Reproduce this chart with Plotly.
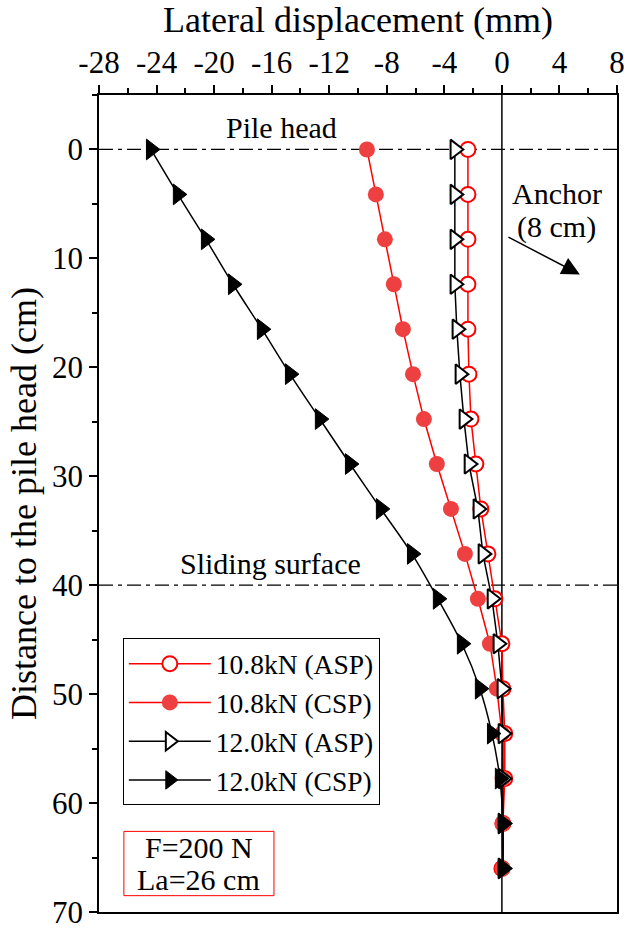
import plotly.graph_objects as go

depth = [0, 4.125, 8.25, 12.375, 16.5, 20.625, 24.75, 28.875, 33.0, 37.125,
         41.25, 45.375, 49.5, 53.625, 57.75, 61.875, 66.0]

asp_108 = [-2.36, -2.36, -2.36, -2.36, -2.36, -2.29, -2.15, -1.81, -1.46, -0.97,
           -0.49, 0.0, 0.07, 0.2, 0.2, 0.07, 0.0]
csp_108 = [-9.38, -8.76, -8.13, -7.51, -6.88, -6.18, -5.42, -4.52, -3.54, -2.57,
           -1.67, -0.83, -0.35, 0.0, 0.05, 0.05, 0.05]
asp_120 = [-3.27, -3.27, -3.27, -3.27, -3.13, -2.92, -2.64, -2.29, -1.67, -1.32,
           -0.69, -0.28, 0.0, 0.07, 0.07, 0.07, 0.07]
csp_120 = [-24.39, -22.52, -20.57, -18.69, -16.68, -14.73, -12.65, -10.56, -8.41, -6.25,
           -4.45, -2.78, -1.53, -0.69, -0.14, 0.07, 0.07]

x_ticks = [-28, -24, -20, -16, -12, -8, -4, 0, 4, 8]
y_ticks = [0, 10, 20, 30, 40, 50, 60, 70]

FONT = "Liberation Serif, Times New Roman, serif"
RED = "#ff0000"
RED_FILL = "#ee4040"
ANN = 30
DASHDOT = "14px,5px,4px,5px"

fig = go.Figure()

fig.add_trace(go.Scatter(
    x=asp_108, y=depth, mode="lines+markers", name="10.8kN (ASP)",
    line=dict(color=RED, width=1.5),
    marker=dict(symbol="circle", size=15, color="white", line=dict(color=RED, width=2)),
))
fig.add_trace(go.Scatter(
    x=csp_108, y=depth, mode="lines+markers", name="10.8kN (CSP)",
    line=dict(color=RED, width=1.5),
    marker=dict(symbol="circle", size=16, color=RED_FILL, line=dict(color=RED_FILL, width=0)),
))
fig.add_trace(go.Scatter(
    x=asp_120, y=depth, mode="lines+markers", name="12.0kN (ASP)",
    line=dict(color="black", width=1.5),
    marker=dict(symbol="triangle-right", size=17, color="white", line=dict(color="black", width=2)),
))
fig.add_trace(go.Scatter(
    x=csp_120, y=depth, mode="lines+markers", name="12.0kN (CSP)",
    line=dict(color="black", width=1.5, shape="spline"),
    marker=dict(symbol="triangle-right", size=18, color="black", line=dict(color="black", width=1)),
))

# reference lines
fig.add_shape(type="line", xref="x", yref="y", x0=-28, x1=8, y0=0, y1=0,
              line=dict(color="black", width=1.3, dash=DASHDOT), layer="below")
fig.add_shape(type="line", xref="x", yref="y", x0=-28, x1=8, y0=40, y1=40,
              line=dict(color="black", width=1.3, dash=DASHDOT), layer="below")
fig.add_shape(type="line", xref="x", yref="y", x0=0, x1=0, y0=-5, y1=70,
              line=dict(color="black", width=1.5), layer="below")

# info box
fig.add_shape(type="rect", xref="x", yref="y", x0=-26.27, x1=-15.84, y0=62.6, y1=68.5,
              line=dict(color=RED, width=1), fillcolor="white", layer="below")
fig.add_annotation(x=-21.06, y=64.05, xref="x", yref="y", text="F=200 N",
                   showarrow=False, font=dict(family=FONT, size=ANN, color="black"))
fig.add_annotation(x=-21.06, y=67.05, xref="x", yref="y", text="La=26 cm",
                   showarrow=False, font=dict(family=FONT, size=ANN, color="black"))

fig.add_annotation(x=-15.3, y=-2.0, xref="x", yref="y", text="Pile head",
                   showarrow=False, font=dict(family=FONT, size=ANN, color="black"))
fig.add_annotation(x=-16.1, y=38.0, xref="x", yref="y", text="Sliding surface",
                   showarrow=False, font=dict(family=FONT, size=ANN, color="black"))
fig.add_annotation(x=3.82, y=4.05, xref="x", yref="y", text="Anchor",
                   showarrow=False, font=dict(family=FONT, size=ANN, color="black"))
fig.add_annotation(x=3.82, y=7.1, xref="x", yref="y", text="(8 cm)",
                   showarrow=False, font=dict(family=FONT, size=ANN, color="black"))
fig.add_annotation(x=5.42, y=11.47, ax=0.35, ay=7.98, xref="x", yref="y",
                   axref="x", ayref="y", text="", showarrow=True,
                   arrowhead=2, arrowsize=2.4, arrowwidth=1.5, arrowcolor="black")

fig.update_layout(
    width=624, height=931,
    margin=dict(l=99, r=7, t=95, b=19),
    paper_bgcolor="white", plot_bgcolor="white",
    font=dict(family=FONT, size=31, color="black"),
    showlegend=True,
    legend=dict(x=0.046, y=0.335, xanchor="left", yanchor="top",
                bgcolor="white", bordercolor="black", borderwidth=1,
                font=dict(family=FONT, size=27.5, color="black"),
                itemwidth=82),
    xaxis=dict(
        range=[-28, 8], side="top", automargin=False, ticklabeloverflow="allow",
        title=dict(text="Lateral displacement (mm)", font=dict(size=36), standoff=6),
        tickvals=x_ticks, ticktext=[str(v) for v in x_ticks],
        tickfont=dict(size=31),
        ticks="outside", ticklen=8, tickwidth=1.5, tickcolor="black",
        minor=dict(dtick=2, tick0=0, ticks="outside", ticklen=5, tickwidth=1.5, tickcolor="black"),
        showline=True, linecolor="black", linewidth=1.5, mirror=True,
        showgrid=False, zeroline=False,
    ),
    yaxis=dict(
        range=[70, -5], automargin=False, ticklabeloverflow="allow",
        title=dict(text="Distance to the pile head (cm)", font=dict(size=36), standoff=4),
        tickvals=y_ticks, ticktext=[str(v) for v in y_ticks],
        tickfont=dict(size=31),
        ticks="outside", ticklen=8, tickwidth=1.5, tickcolor="black",
        minor=dict(dtick=5, tick0=0, ticks="outside", ticklen=5, tickwidth=1.5, tickcolor="black"),
        showline=True, linecolor="black", linewidth=1.5, mirror=True,
        showgrid=False, zeroline=False,
    ),
)

fig.write_html("out.html")
